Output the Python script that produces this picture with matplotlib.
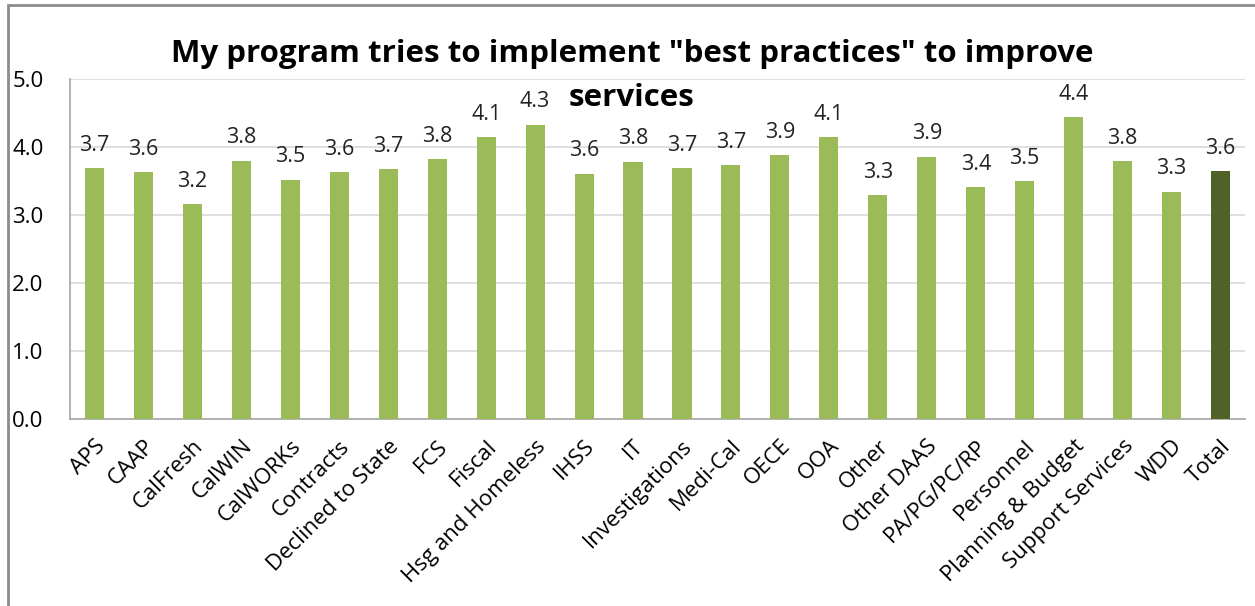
import numpy as np
import matplotlib.pyplot as plt
from matplotlib.patches import Rectangle

# Program areas and mean ratings
programs = ['APS', 'CAAP', 'CalFresh', 'CalWIN', 'CalWORKs', 'Contracts',
            'Declined to State', 'FCS', 'Fiscal', 'Hsg and Homeless', 'IHSS', 'IT',
            'Investigations', 'Medi-Cal', 'OECE', 'OOA', 'Other', 'Other DAAS',
            'PA/PG/PC/RP', 'Personnel', 'Planning & Budget', 'Support Services',
            'WDD', 'Total']
ratings = [3.69, 3.63, 3.16, 3.80, 3.52, 3.63, 3.67, 3.82, 4.14, 4.33, 3.61, 3.78,
           3.69, 3.73, 3.88, 4.14, 3.29, 3.86, 3.41, 3.50, 4.44, 3.79, 3.34, 3.64]
y_ticks = [0.0, 1.0, 2.0, 3.0, 4.0, 5.0]
title_lines = ['My program tries to implement "best practices" to improve', 'services']

light_green = '#9BBB59'
dark_green = '#4F6228'
font = 'Open Sans'

fig = plt.figure(figsize=(12.55, 6.06), dpi=100)
ax = fig.add_axes([70 / 1255, 1 - 419 / 606, 1175 / 1255, 340 / 606])

x = np.arange(len(programs))
colors = [light_green] * (len(programs) - 1) + [dark_green]
bars = ax.bar(x, ratings, width=0.39, color=colors, zorder=3)

for xi, val in zip(x, ratings):
    ax.annotate(f'{val:.1f}', xy=(xi, val), xytext=(0, 9), textcoords='offset points',
                ha='center', va='bottom', fontsize=15.5, family=font, color='#222222')

ax.set_xlim(-0.5, len(programs) - 0.5)
ax.set_ylim(0, 5)
ax.set_yticks(y_ticks)
ax.set_yticklabels([f'{t:.1f}' for t in y_ticks], fontsize=16, family=font)
ax.yaxis.grid(True, color='#D9D9D9', linewidth=1.2, zorder=0)
ax.tick_params(axis='y', length=0, pad=19)
ax.tick_params(axis='x', length=0, pad=12)
ax.set_xticks(x)
ax.set_xticklabels(programs, rotation=45, ha='right', rotation_mode='anchor',
                   fontsize=16, family=font)

for side in ['top', 'right']:
    ax.spines[side].set_visible(False)
ax.spines['left'].set_color('#A6A6A6')
ax.spines['bottom'].set_color('#A6A6A6')
ax.spines['left'].set_linewidth(1.2)
ax.spines['bottom'].set_linewidth(1.2)

# two-line title, drawn line by line
for line, base_y in zip(title_lines, [62, 106]):
    fig.text(632 / 1255, 1 - base_y / 606, line, ha='center', va='baseline',
             fontsize=22.5, fontweight='bold', family=font)

# outer chart frame
fig.patches.append(Rectangle((8 / 1255, -0.1), 1.2, 1 - 5 / 606 + 0.1,
                             transform=fig.transFigure, fill=False,
                             edgecolor='#8C8C8C', linewidth=2))

fig.savefig('out.png', dpi=100)
